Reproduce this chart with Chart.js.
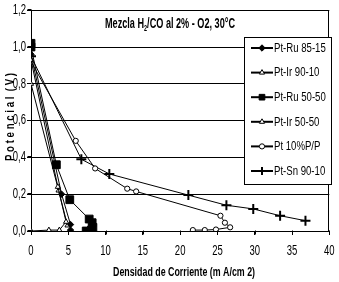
<!DOCTYPE html>
<html>
<head>
<meta charset="utf-8">
<script src="https://cdn.jsdelivr.net/npm/chart.js@4.4.1/dist/chart.umd.min.js"></script>
<style>
	html, body { margin: 0; padding: 0; background: #fff; }
	#chartBox { width: 339px; height: 282px; }
</style>
</head>
<body>
<div id="chartBox"><canvas id="potencialChart"></canvas></div>
<script>
const FONT = "'Liberation Sans', Arial, sans-serif";

const SERIES_NAMES = ['Pt-Ru 85-15', 'Pt-Ir 90-10', 'Pt-Ru 50-50', 'Pt-Ir 50-50', 'Pt 10%P/P', 'Pt-Sn 90-10'];

// densidad de corriente (mA/cm2) y potencial (V) de cada catalizador
const ptRu8515X = [0, 4.1, 5.3, 5.3];
const ptRu8515Y = [0.96, 0.2, 0.035, 0.005];
const ptIr9010X = [0, 3.6, 4.7, 3.8, 2.4, 0];
const ptIr9010Y = [0.93, 0.24, 0.05, 0.005, 0.005, 0];
const ptRu5050X = [0, 0, 3.4, 5.2, 7.8, 8.2, 8.3, 8.1, 7.4];
const ptRu5050Y = [1.02, 1.0, 0.36, 0.17, 0.065, 0.045, 0.02, 0.005, 0];
const ptIr5050X = [0, 3.7, 4.9];
const ptIr5050Y = [0.8, 0.22, 0.03];
const pt10X = [0, 6.0, 8.6, 12.9, 14.1, 25.4, 26.0, 26.7, 24.8, 23.3, 21.7];
const pt10Y = [0.92, 0.49, 0.34, 0.23, 0.215, 0.083, 0.045, 0.02, 0.008, 0.005, 0.005];
const ptSnX = [0, 6.75, 10.5, 21.1, 26.2, 29.8, 33.4, 36.8];
const ptSnY = [0.95, 0.39, 0.31, 0.195, 0.14, 0.12, 0.083, 0.056];

const X_TICKS = [0, 5, 10, 15, 20, 25, 30, 35, 40];
const Y_TICKS = [0, 0.2, 0.4, 0.6, 0.8, 1.0, 1.2];
const Y_TICK_LABELS = ['0,0', '0,2', '0,4', '0,6', '0,8', '1,0', '1,2'];

function toPoints(xs, ys) {
	return xs.map((x, i) => ({ x: x, y: ys[i] }));
}

const MARKERS = [
	{ pointStyle: 'rectRot', radius: 3.2, fill: '#000', borderWidth: 1 },
	{ pointStyle: 'triangle', radius: 3, fill: '#fff', borderWidth: 1 },
	{ pointStyle: 'rect', radius: 5.5, fill: '#000', borderWidth: 1 },
	{ pointStyle: 'triangle', radius: 3, fill: '#fff', borderWidth: 1 },
	{ pointStyle: 'circle', radius: 2.6, fill: '#fff', borderWidth: 1 },
	{ pointStyle: 'cross', radius: 5, fill: '#000', borderWidth: 2 },
];

const ALL_POINTS = [
	toPoints(ptRu8515X, ptRu8515Y),
	toPoints(ptIr9010X, ptIr9010Y),
	toPoints(ptRu5050X, ptRu5050Y),
	toPoints(ptIr5050X, ptIr5050Y),
	toPoints(pt10X, pt10Y),
	toPoints(ptSnX, ptSnY),
];

const datasets = SERIES_NAMES.map((name, i) => ({
	label: name,
	data: ALL_POINTS[i],
	showLine: true,
	borderColor: '#000',
	borderWidth: 1,
	pointStyle: MARKERS[i].pointStyle,
	pointRadius: MARKERS[i].radius,
	pointBackgroundColor: MARKERS[i].fill,
	pointBorderColor: '#000',
	pointBorderWidth: MARKERS[i].borderWidth,
}));

// texto estrecho (la fuente original es tipo Arial Narrow)
function narrowText(ctx, text, x, y, font, sx, align, rotation) {
	ctx.save();
	ctx.translate(x, y);
	if (rotation) ctx.rotate(rotation);
	ctx.scale(sx, 1);
	ctx.font = font;
	ctx.textAlign = align || 'left';
	ctx.fillText(text, 0, 0);
	ctx.restore();
}

function fitScale(ctx, text, font, width) {
	ctx.save();
	ctx.font = font;
	const w = ctx.measureText(text).width;
	ctx.restore();
	return width / w;
}

// marco, marcas y textos de ejes, título con subíndice y leyenda con recuadro
const decorPlugin = {
	id: 'decor',
	afterDraw(chart) {
		const ctx = chart.ctx;
		const area = chart.chartArea;
		const xs = chart.scales.x;
		const ys = chart.scales.y;
		ctx.save();
		ctx.strokeStyle = '#000';
		ctx.lineWidth = 1;
		ctx.beginPath();
		ctx.moveTo(Math.round(area.right) - 0.5, area.top);
		ctx.lineTo(Math.round(area.right) - 0.5, area.bottom);
		// marcas de los ejes
		const axisX = Math.round(area.left) + 0.5;
		const axisY = Math.round(area.bottom) - 0.5;
		X_TICKS.forEach(v => {
			const px = Math.round(xs.getPixelForValue(v)) + 0.5;
			ctx.moveTo(px, axisY);
			ctx.lineTo(px, axisY + 4);
		});
		Y_TICKS.forEach(v => {
			const py = Math.round(ys.getPixelForValue(v)) - 0.5;
			ctx.moveTo(axisX - 4, py);
			ctx.lineTo(axisX, py);
		});
		ctx.moveTo(axisX, axisY);
		ctx.lineTo(axisX, axisY + 3);
		ctx.stroke();

		ctx.fillStyle = '#000';
		ctx.textBaseline = 'middle';
		const tickFont = '14px ' + FONT;
		X_TICKS.forEach(v => {
			narrowText(ctx, String(v), xs.getPixelForValue(v), 251, tickFont, 0.68, 'center');
		});
		Y_TICKS.forEach((v, i) => {
			narrowText(ctx, Y_TICK_LABELS[i], 26, ys.getPixelForValue(v), tickFont, 0.68, 'right');
		});

		// títulos de ejes
		const axisFont = 'bold 13px ' + FONT;
		const xTitle = 'Densidad de Corriente (m A/cm 2)';
		narrowText(ctx, xTitle, 184, 272, axisFont, fitScale(ctx, xTitle, axisFont, 142), 'center');
		const yTitle = 'P o t e n c i a l  ( V )';
		narrowText(ctx, yTitle, 10, 117, axisFont, fitScale(ctx, yTitle, axisFont, 88), 'center', -Math.PI / 2);

		// título
		ctx.textBaseline = 'alphabetic';
		const big = 'bold 15px ' + FONT;
		const small = 'bold 9px ' + FONT;
		const parts = [['Mezcla H', big, 0], ['2', small, 3], ['/CO al 2% - O2, 30°C', big, 0]];
		let total = 0;
		parts.forEach(p => { ctx.font = p[1]; total += ctx.measureText(p[0]).width; });
		const tsx = 130 / total;
		let x = 170 - 65;
		parts.forEach(p => {
			narrowText(ctx, p[0], x, 28 + p[2], p[1], tsx, 'left');
			ctx.font = p[1];
			x += ctx.measureText(p[0]).width * tsx;
		});

		// leyenda
		ctx.fillStyle = '#fff';
		ctx.fillRect(244, 37, 87, 147);
		ctx.strokeRect(244.5, 37.5, 87, 147);
		ctx.textBaseline = 'middle';
		const legFont = '12px ' + FONT;
		SERIES_NAMES.forEach((name, i) => {
			const y = 48 + i * 24.6;
			ctx.strokeStyle = '#000';
			ctx.lineWidth = 2;
			ctx.beginPath();
			ctx.moveTo(251, y);
			ctx.lineTo(273, y);
			ctx.stroke();
			const m = MARKERS[i];
			ctx.fillStyle = m.fill;
			ctx.lineWidth = m.borderWidth;
			Chart.helpers.drawPoint(ctx, {
				pointStyle: m.pointStyle,
				radius: Math.min(m.radius, 4),
				borderWidth: m.borderWidth,
				rotation: 0,
			}, 262, y);
			ctx.fillStyle = '#000';
			narrowText(ctx, name, 274, y + 0.5, legFont, 0.8, 'left');
		});
		ctx.restore();
	},
};

const ctx = document.querySelector('#potencialChart').getContext('2d');
const potencialChart = new Chart(ctx, {
	type: 'scatter',
	data: { datasets: datasets },
	options: {
		responsive: true,
		maintainAspectRatio: false,
		animation: false,
		layout: { padding: { top: 6, right: 6, left: 0, bottom: 0 } },
		scales: {
			x: {
				type: 'linear',
				min: 0,
				max: 40,
				afterFit(scale) { scale.height = 51; },
				ticks: { stepSize: 5, color: 'rgba(0,0,0,0)' },
				grid: {
					drawOnChartArea: false,
					drawTicks: true,
					tickLength: 4,
					color: '#000',
				},
				border: { color: '#000', width: 1 },
			},
			y: {
				min: 0,
				max: 1.2,
				afterFit(scale) { scale.width = 31; },
				ticks: { stepSize: 0.2, color: 'rgba(0,0,0,0)' },
				grid: {
					color: '#000',
					tickLength: 4,
				},
				border: { color: '#000', width: 1 },
			},
		},
		plugins: {
			legend: { display: false },
			tooltip: { enabled: false },
			title: { display: false },
		},
	},
	plugins: [decorPlugin],
});
</script>
</body>
</html>
